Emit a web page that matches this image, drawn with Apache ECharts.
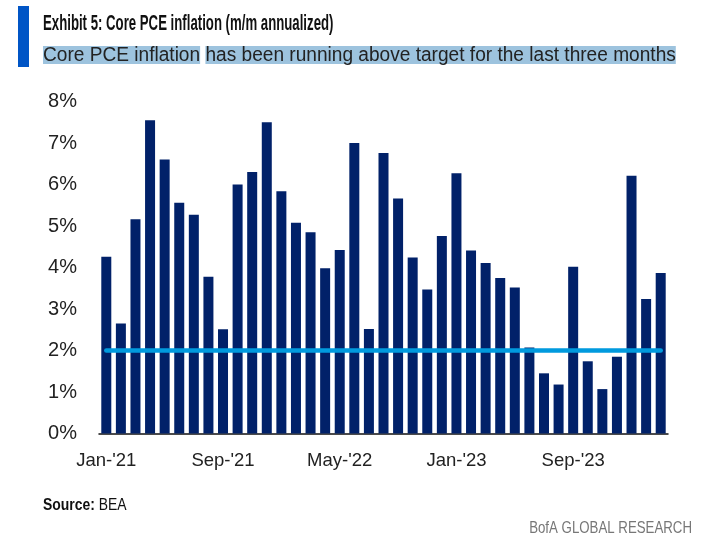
<!DOCTYPE html>
<html><head><meta charset="utf-8">
<script src="https://cdn.jsdelivr.net/npm/echarts@6/dist/echarts.min.js"></script>
<style>html,body{margin:0;padding:0;background:#fff}#c{width:724px;height:549px}</style>
</head><body><div id="c"></div>
<script>
const categories = [
  "Jan-'21","Feb-'21","Mar-'21","Apr-'21","May-'21","Jun-'21","Jul-'21","Aug-'21","Sep-'21","Oct-'21","Nov-'21","Dec-'21",
  "Jan-'22","Feb-'22","Mar-'22","Apr-'22","May-'22","Jun-'22","Jul-'22","Aug-'22","Sep-'22","Oct-'22","Nov-'22","Dec-'22",
  "Jan-'23","Feb-'23","Mar-'23","Apr-'23","May-'23","Jun-'23","Jul-'23","Aug-'23","Sep-'23","Oct-'23","Nov-'23","Dec-'23",
  "Jan-'24","Feb-'24","Mar-'24"
];
const corePCE = [
  4.26, 2.65, 5.16, 7.55, 6.60, 5.56, 5.27, 3.78, 2.51, 6.00, 6.30, 7.50,
  5.84, 5.08, 4.85, 3.98, 4.42, 7.00, 2.52, 6.76, 5.66, 4.24, 3.47, 4.76,
  6.27, 4.41, 4.11, 3.75, 3.52, 2.07, 1.45, 1.18, 4.02, 1.74, 1.07, 1.85,
  6.21, 3.24, 3.87
];
const target = 2;
const yTicks = { min: 0, max: 8, step: 1 };
const titleText = "Exhibit 5: Core PCE inflation (m/m annualized)";
const subA = "Core PCE inflation";
const subB = "has been running above target for the last three months";

const FONT = "'Liberation Sans', Arial, sans-serif";
const chart = echarts.init(document.getElementById('c'), null, { renderer: 'canvas' });
chart.setOption({
  animation: false,
  backgroundColor: '#fff',
  grid: { left: 99, right: 56, top: 101.5, bottom: 115.5 },
  xAxis: {
    type: 'category',
    data: categories,
    boundaryGap: true,
    axisLine: { show: true, lineStyle: { color: '#111', width: 1.5 } },
    axisTick: { show: false },
    axisLabel: { interval: 7, fontFamily: FONT, fontSize: 18.5, color: '#222', margin: 18 }
  },
  yAxis: {
    type: 'value',
    min: yTicks.min, max: yTicks.max, interval: yTicks.step,
    axisLine: { show: false },
    axisTick: { show: false },
    splitLine: { show: false },
    axisLabel: { formatter: '{value}%', fontFamily: FONT, fontSize: 20, color: '#222', margin: 22 }
  },
  series: [{
    type: 'bar',
    data: corePCE,
    barWidth: 10,
    itemStyle: { color: '#012169' },
    markLine: {
      silent: true,
      symbol: ['none', 'none'],
      label: { show: false },
      lineStyle: { color: '#009ADE', width: 4.5, type: 'solid', cap: 'round' },
      data: [[{ coord: [categories[0], target] }, { coord: [categories[categories.length - 1], target] }]]
    }
  }],
  graphic: [
    { type: 'rect', shape: { x: 18, y: 6, width: 11, height: 61 }, style: { fill: '#0055C6' } },
    { type: 'text', x: 43, y: 13, scaleX: 0.6, style: { text: titleText, font: 'bold 22px ' + FONT, fill: '#111', verticalAlign: 'top' } },
    { type: 'text', x: 43, y: 45, scaleX: 0.955, style: {
        text: '{h|' + subA + '} {h|' + subB + '}',
        font: '20px ' + FONT, fill: '#222', verticalAlign: 'top',
        rich: { h: { backgroundColor: '#9DC3DE', font: '20px ' + FONT, fill: '#222', lineHeight: 18, height: 18 } }
    } },
    { type: 'text', x: 43, y: 497, scaleX: 0.82, style: {
        text: '{b|Source:} BEA', font: '17px ' + FONT, fill: '#111', verticalAlign: 'top',
        rich: { b: { font: 'bold 17px ' + FONT, fill: '#111' } }
    } },
    { type: 'text', x: 692, y: 520, scaleX: 0.78, style: { text: 'BofA GLOBAL RESEARCH', font: '17px ' + FONT, fill: '#777', align: 'right', verticalAlign: 'top' } }
  ]
});
</script>
</body></html>
